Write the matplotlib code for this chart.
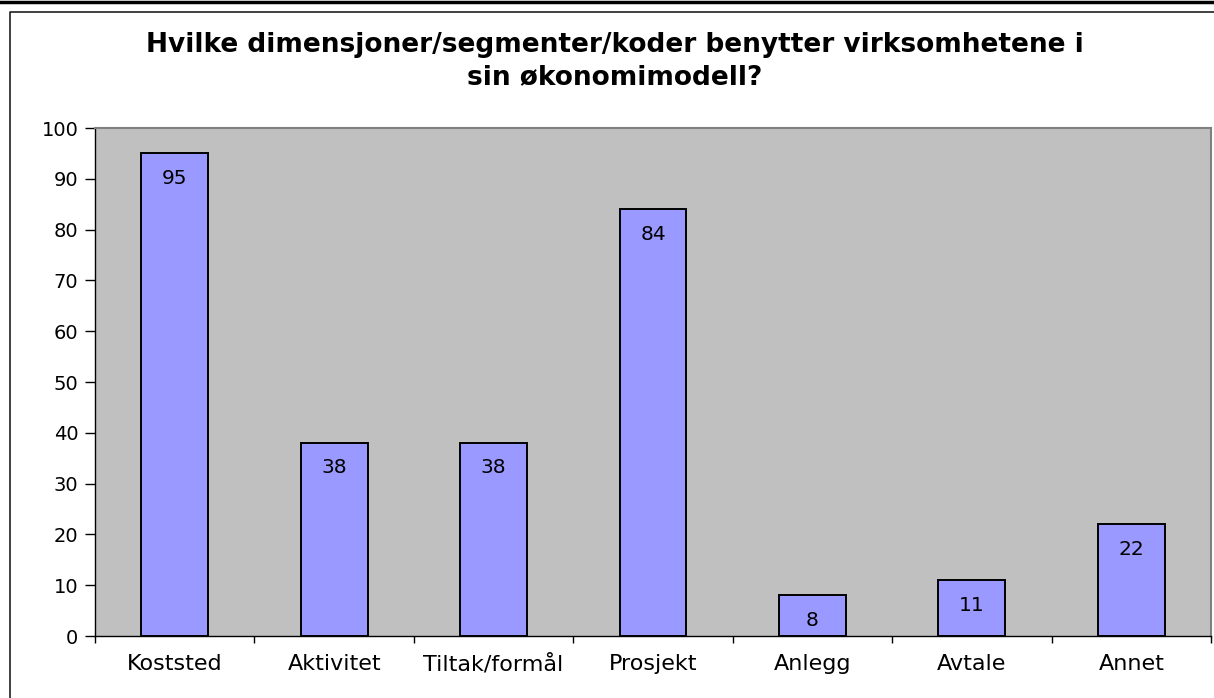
import matplotlib.pyplot as plt
from matplotlib.lines import Line2D
import numpy as np

# the reference looks horizontally stretched, a wide face fits it best
plt.rcParams['font.family'] = ['DejaVu Sans']

categories = ["Koststed", "Aktivitet", "Tiltak/formål", "Prosjekt", "Anlegg", "Avtale", "Annet"]
values = [95, 38, 38, 84, 8, 11, 22]
y_ticks = list(range(0, 101, 10))

title = "Hvilke dimensjoner/segmenter/koder benytter virksomhetene i\nsin økonomimodell?"

W, H = 1214, 698
fig = plt.figure(figsize=(W / 100, H / 100), dpi=100)
fig.patch.set_facecolor("white")

# plot area in pixel coords of the reference
left, right, top, bottom = 95, 1211, 128, 636
ax = fig.add_axes([left / W, (H - bottom) / H, (right - left) / W, (bottom - top) / H])
ax.set_facecolor("#C0C0C0")

x = np.arange(len(categories))
bars = ax.bar(x, values, width=0.42, color="#9999FF", edgecolor="black", linewidth=1.4, zorder=2)

# value labels inside the top of each bar
for bar in bars:
    h = bar.get_height()
    ax.annotate(f"{h:.0f}", xy=(bar.get_x() + bar.get_width() / 2, h),
                xytext=(0, -25), textcoords="offset pixels",
                ha="center", va="center", fontsize=14.5, zorder=3)

ax.set_xlim(-0.5, len(categories) - 0.5)
ax.set_ylim(0, 100)
ax.set_yticks(y_ticks)
ax.tick_params(axis="y", labelsize=14, length=7, width=1, direction="out", pad=5)

ax.set_xticks(x)
ax.set_xticklabels(categories, fontsize=16)
ax.tick_params(axis="x", which="major", length=0, pad=13)
ax.set_xticks(np.arange(-0.5, len(categories) + 0.5, 1), minor=True)
ax.tick_params(axis="x", which="minor", length=5, width=1, direction="out")

for side in ("top", "right"):
    ax.spines[side].set_color("#808080")
    ax.spines[side].set_linewidth(1.5)
for side in ("left", "bottom"):
    ax.spines[side].set_color("black")
    ax.spines[side].set_linewidth(1)

fig.text(615 / W, 1 - 61 / H, title, ha="center", va="center",
         fontsize=19, fontweight="bold", linespacing=1.3)

# outer frame: thick line at top, thin chart border
fig.add_artist(Line2D([0, 1], [1 - 1.5 / H, 1 - 1.5 / H], color="black", linewidth=2.5))
fig.add_artist(Line2D([9.5 / W, 9.5 / W, 1], [0, 1 - 12 / H, 1 - 12 / H], color="#202020", linewidth=1.2))

fig.savefig("out.png", dpi=100)
